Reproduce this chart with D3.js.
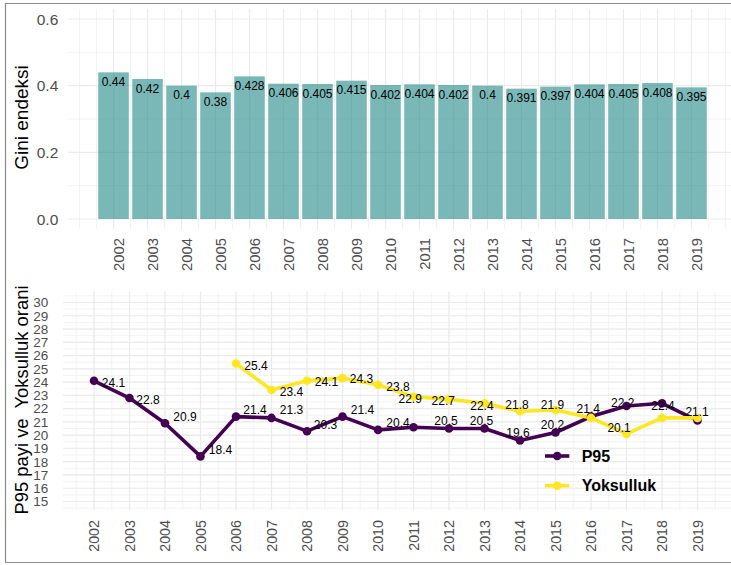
<!DOCTYPE html>
<html>
<head>
<meta charset="utf-8">
<script src="https://cdn.jsdelivr.net/npm/d3@7"></script>
<style>
  html, body { margin: 0; padding: 0; background: #fff; }
  svg { display: block; font-family: "Liberation Sans", Arial, Helvetica, sans-serif; }
</style>
</head>
<body>
<svg id="chart" width="731" height="565"></svg>
<script>
// Years and series
const years = [2002, 2003, 2004, 2005, 2006, 2007, 2008, 2009, 2010,
               2011, 2012, 2013, 2014, 2015, 2016, 2017, 2018, 2019];
const gini = [0.44, 0.42, 0.4, 0.38, 0.428, 0.406, 0.405, 0.415, 0.402,
              0.404, 0.402, 0.4, 0.391, 0.397, 0.404, 0.405, 0.408, 0.395];
const p95 = [24.1, 22.8, 20.9, 18.4, 21.4, 21.3, 20.3, 21.4, 20.4,
             20.6, 20.5, 20.5, 19.6, 20.2, 21.4, 22.2, 22.4, 21.1];
// poverty rate starts in 2006
const yoksulluk = [null, null, null, null, 25.4, 23.4, 24.1, 24.3, 23.8,
                   22.9, 22.7, 22.4, 21.8, 21.9, 21.3, 20.1, 21.3, 21.3];
const giniTicks = [0, 0.2, 0.4, 0.6];
const lineTicks = d3.range(15, 31);
const seriesNames = ["P95", "Yoksulluk"];

const svg = d3.select("#chart");
const gridMajor = "#ebebeb", axisText = "#4d4d4d";

// outer frame
svg.append("path")
  .attr("d", "M800,3.5 H5.5 V562.5 H800")
  .attr("fill", "none").attr("stroke", "#8c8c8c").attr("stroke-width", 1.2);

// ---------- Gini bar panel ----------
const panelA = { left: 67.8, right: 731, top: 9, bottom: 229 };
const xTop = d3.scaleLinear().domain([2000.655, 2020.345]).range([67.8, 737.2]);
const yTop = d3.scaleLinear().domain([-0.03, 0.63]).range([229, 9]);
const gTop = svg.append("g");

// grid
const topMinorX = d3.range(2000.5, 2021, 0.5).filter(v => xTop(v) >= panelA.left && xTop(v) <= panelA.right);
gTop.selectAll(".vminor").data(topMinorX).join("line")
  .attr("x1", d => xTop(d)).attr("x2", d => xTop(d))
  .attr("y1", panelA.top).attr("y2", panelA.bottom)
  .attr("stroke", gridMajor).attr("stroke-width", 0.6);
gTop.selectAll(".hminor").data([0.1, 0.3, 0.5]).join("line")
  .attr("x1", panelA.left).attr("x2", panelA.right)
  .attr("y1", d => yTop(d)).attr("y2", d => yTop(d))
  .attr("stroke", gridMajor).attr("stroke-width", 0.6);
gTop.selectAll(".vmajor").data(years).join("line")
  .attr("x1", d => xTop(d)).attr("x2", d => xTop(d))
  .attr("y1", panelA.top).attr("y2", panelA.bottom)
  .attr("stroke", gridMajor).attr("stroke-width", 1.2);
gTop.selectAll(".hmajor").data(giniTicks).join("line")
  .attr("x1", panelA.left).attr("x2", panelA.right)
  .attr("y1", d => yTop(d)).attr("y2", d => yTop(d))
  .attr("stroke", gridMajor).attr("stroke-width", 1.2);

// bars
const barW = xTop(0.9) - xTop(0);
gTop.selectAll(".bar").data(years).join("rect")
  .attr("x", d => xTop(d) - barW / 2)
  .attr("width", barW)
  .attr("y", (d, i) => yTop(gini[i]))
  .attr("height", (d, i) => yTop(0) - yTop(gini[i]))
  .attr("fill", "#1a8585").attr("fill-opacity", 0.58);

gTop.selectAll(".barlab").data(years).join("text")
  .attr("x", d => xTop(d))
  .attr("y", (d, i) => yTop(gini[i]) + 13.8)
  .attr("text-anchor", "middle")
  .attr("font-size", 12).attr("fill", "#000")
  .text((d, i) => String(gini[i]));

// axes text
gTop.selectAll(".ytick").data(giniTicks).join("text")
  .attr("x", 58.3).attr("y", d => yTop(d))
  .attr("dy", "0.36em").attr("text-anchor", "end")
  .attr("font-size", 15.5).attr("fill", axisText)
  .text(d3.format(".1f"));
gTop.selectAll(".xtick").data(years).join("text")
  .attr("transform", d => `translate(${xTop(d)},238) rotate(-90)`)
  .attr("dy", "0.72em").attr("text-anchor", "end")
  .attr("font-size", 14.8).attr("fill", axisText)
  .text(d => d);
gTop.append("text")
  .attr("transform", "translate(28,117.5) rotate(-90)")
  .attr("text-anchor", "middle").attr("font-size", 19).attr("fill", "#000")
  .text("Gini endeksi");

// ---------- P95 / poverty line panel ----------
const panelB = { left: 63, right: 731, top: 291.5, bottom: 510 };
const xBot = d3.scaleLinear().domain([2002, 2019]).range([94, 697.5]);
const yBot = d3.scaleLinear().domain([15, 30]).range([501.5, 302.5]);
const gBot = svg.append("g");

const botMinorX = d3.range(2000.5, 2021, 0.5).filter(v => xBot(v) >= panelB.left && xBot(v) <= panelB.right);
const botMinorY = d3.range(14.5, 31, 0.5).filter(v => yBot(v) <= panelB.bottom && yBot(v) >= panelB.top);
gBot.selectAll(".vminor").data(botMinorX).join("line")
  .attr("x1", d => xBot(d)).attr("x2", d => xBot(d))
  .attr("y1", panelB.top).attr("y2", panelB.bottom)
  .attr("stroke", gridMajor).attr("stroke-width", 0.6);
gBot.selectAll(".hminor").data(botMinorY).join("line")
  .attr("x1", panelB.left).attr("x2", panelB.right)
  .attr("y1", d => yBot(d)).attr("y2", d => yBot(d))
  .attr("stroke", gridMajor).attr("stroke-width", 0.6);
gBot.selectAll(".vmajor").data(years).join("line")
  .attr("x1", d => xBot(d)).attr("x2", d => xBot(d))
  .attr("y1", panelB.top).attr("y2", panelB.bottom)
  .attr("stroke", gridMajor).attr("stroke-width", 1.2);
gBot.selectAll(".hmajor").data(lineTicks).join("line")
  .attr("x1", panelB.left).attr("x2", panelB.right)
  .attr("y1", d => yBot(d)).attr("y2", d => yBot(d))
  .attr("stroke", gridMajor).attr("stroke-width", 1.2);

const colors = { P95: "#440154", Yoksulluk: "#FDE725" };
const seriesData = {
  P95: years.map((y, i) => ({ year: y, v: p95[i] })),
  Yoksulluk: years.map((y, i) => ({ year: y, v: yoksulluk[i] })).filter(d => d.v != null)
};
const line = d3.line().x(d => xBot(d.year)).y(d => yBot(d.v));

seriesNames.forEach(s => {
  gBot.append("path").datum(seriesData[s])
    .attr("d", line).attr("fill", "none")
    .attr("stroke", colors[s]).attr("stroke-width", 3.6)
    .attr("stroke-linejoin", "round");
});
seriesNames.forEach(s => {
  gBot.selectAll(".pt-" + s).data(seriesData[s]).join("circle")
    .attr("cx", d => xBot(d.year)).attr("cy", d => yBot(d.v))
    .attr("r", 4.3).attr("fill", colors[s]);
});

// value labels: pixel nudges of the text centre from each point; missing years are not labelled
const labelNudge = {
  P95: { 2002: [19.5, 1.7], 2003: [18.5, 1.6], 2004: [20, -6.7], 2005: [20, -6.7],
         2006: [19, -7], 2007: [20, -8.5], 2008: [18.5, -7], 2009: [20, -6.7],
         2010: [20, -7.5], 2012: [-3, -8], 2013: [-3, -8], 2014: [-2, -7.3],
         2015: [-3, -8.3], 2016: [-2.7, -8.3], 2017: [-3.7, -3.6], 2018: [1, 2.7],
         2019: [-0.4, -9.3] },
  Yoksulluk: { 2006: [20, 2.3], 2007: [20, 1.7], 2008: [19.4, 1], 2009: [19, 1],
               2010: [20, 1.7], 2011: [-3.3, 2.3], 2012: [-5.7, 1.7], 2013: [-2.6, 2.6],
               2014: [-3, -6.7], 2015: [-3, -5.3], 2017: [-7.4, -6] }
};
seriesNames.forEach(s => {
  const shown = seriesData[s].filter(d => labelNudge[s][d.year]);
  gBot.selectAll(".lab-" + s).data(shown).join("text")
    .attr("x", d => xBot(d.year) + labelNudge[s][d.year][0])
    .attr("y", d => yBot(d.v) + labelNudge[s][d.year][1])
    .attr("dy", "0.36em").attr("text-anchor", "middle")
    .attr("font-size", 12).attr("fill", "#000")
    .text(d => String(d.v));
});

// axes text
gBot.selectAll(".ytick").data(lineTicks).join("text")
  .attr("x", 48.3).attr("y", d => yBot(d))
  .attr("dy", "0.36em").attr("text-anchor", "end")
  .attr("font-size", 13.5).attr("fill", axisText)
  .text(d => d);
gBot.selectAll(".xtick").data(years).join("text")
  .attr("transform", d => `translate(${xBot(d)},520) rotate(-90)`)
  .attr("dy", "0.36em").attr("text-anchor", "end")
  .attr("font-size", 14.3).attr("fill", axisText)
  .text(d => d);
gBot.append("text")
  .attr("transform", "translate(28.3,400) rotate(-90)")
  .attr("text-anchor", "middle").attr("font-size", 18.4).attr("fill", "#000")
  .attr("xml:space", "preserve")
  .text("P95 payi ve  Yoksulluk orani");

// legend
const leg = gBot.append("g");
seriesNames.forEach((s, i) => {
  const ly = 456 + i * 29.7;
  leg.append("line").attr("x1", 545).attr("x2", 569.3).attr("y1", ly).attr("y2", ly)
    .attr("stroke", colors[s]).attr("stroke-width", 3.6);
  leg.append("circle").attr("cx", 557.2).attr("cy", ly).attr("r", 4.3).attr("fill", colors[s]);
  leg.append("text").attr("x", 581.7).attr("y", ly).attr("dy", "0.36em")
    .attr("font-size", 16).attr("font-weight", "bold").attr("fill", "#000")
    .text(s);
});
</script>
</body>
</html>
